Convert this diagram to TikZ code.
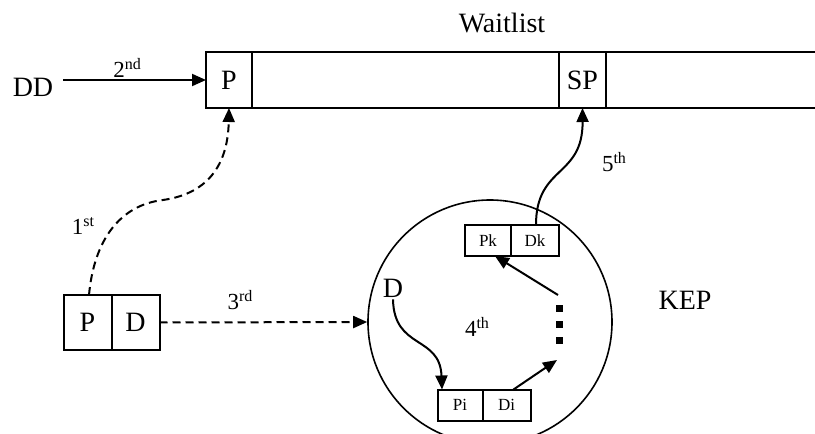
\documentclass[tikz,border=0pt]{standalone}
\usepackage{fontspec}
\setmainfont{Liberation Serif}
\usetikzlibrary{arrows.meta}
\newcommand\ordsup[2]{#1\raisebox{8.5pt}{\fontsize{16}{16}\selectfont #2}}
\begin{document}
\begin{tikzpicture}[x=1pt,y=-1pt,
  cell/.style={draw, line width=2pt, inner sep=0pt, outer sep=0pt, anchor=center},
  big/.style={font=\fontsize{28}{30}\selectfont, inner sep=0pt},
  small/.style={font=\fontsize{17}{18}\selectfont},
  lab/.style={font=\fontsize{23}{24}\selectfont, inner sep=0pt},
  arr/.style={line width=2pt, -{Triangle[length=14pt,width=12pt]}},
  dsh/.style={dash pattern=on 8pt off 5pt},
  sq/.style={fill=black, inner sep=0pt, minimum size=7pt}]
\clip (0,0) rectangle (815,434);
% Waitlist bar
\node[cell, big, minimum width=46pt, minimum height=56pt] (wlP) at (229,80) {P};
\node[cell, minimum width=307pt, minimum height=56pt] (wlA) at (405.5,80) {};
\node[cell, big, minimum width=47pt, minimum height=56pt] (wlSP) at (582.5,80) {SP};
\node[cell, minimum width=224pt, minimum height=56pt] (wlB) at (718,80) {};
\node[big] (wait) at (502,23) {Waitlist};
% DD
\node[big] (DD) at (33,87) {DD};
\coordinate (ddS) at ([xshift=10pt]DD.east |- wlP.west);
\draw[arr] (ddS) -- (wlP.west);
\node[lab] (l2) at (127,68) {\ordsup{2}{nd}};
% P D box
\node[cell, big, minimum width=48pt, minimum height=55pt] (P2) at (87.5,322.5) {P};
\node[cell, big, minimum width=48pt, minimum height=55pt] (D2) at (135.5,322.5) {D};
% circle
\node[draw, circle, line width=1.6pt, minimum size=244pt, inner sep=0pt] (kep) at (490,322) {};
\node[big] (KEP) at (685,300) {KEP};
% 1st
\draw[arr, dsh] ([xshift=1.5pt]P2.north) .. controls (94,240) and (120,205) .. (163,200)
   .. controls (212,193) and (228,160) .. (wlP.south);
\node[lab] (l1) at (83,226) {\ordsup{1}{st}};
% 3rd
\draw[arr, dsh] (D2.east) -- (kep.west);
\node[lab] (l3) at (240,300) {\ordsup{3}{rd}};
% inner boxes
\node[cell, small, minimum width=46pt, minimum height=31pt] (Pk) at (488,240.5) {Pk};
\node[cell, small, minimum width=48pt, minimum height=31pt] (Dk) at (535,240.5) {Dk};
\node[cell, small, minimum width=45pt, minimum height=31pt] (Pi) at (460,405) {Pi};
\node[cell, small, minimum width=48pt, minimum height=31pt] (Di) at (506.5,405) {Di};
\node[big] (Din) at (393,288) {D};
\node[lab] (l4) at (477,327) {\ordsup{4}{th}};
% dots
\node[sq] (d1) at (559,308) {};
\node[sq] (d2) at (559,324) {};
\node[sq] (d3) at (559,340) {};
\coordinate (dotsB) at (557,360);
\coordinate (dotsT) at (558,295);
% arrows inside
\draw[arr] ([yshift=-2pt]Din.south) .. controls (394,350) and (440,335) .. ([xshift=-18pt]Pi.north);
\draw[arr] ([xshift=7pt]Di.north) -- (dotsB);
\draw[arr] (dotsT) -- ([xshift=7pt]Pk.south);
% 5th
\draw[arr] ([xshift=1pt]Dk.north) .. controls (536,165) and (583,178) .. (wlSP.south);
\node[lab] (l5) at (614,162) {\ordsup{5}{th}};
\end{tikzpicture}
\end{document}
